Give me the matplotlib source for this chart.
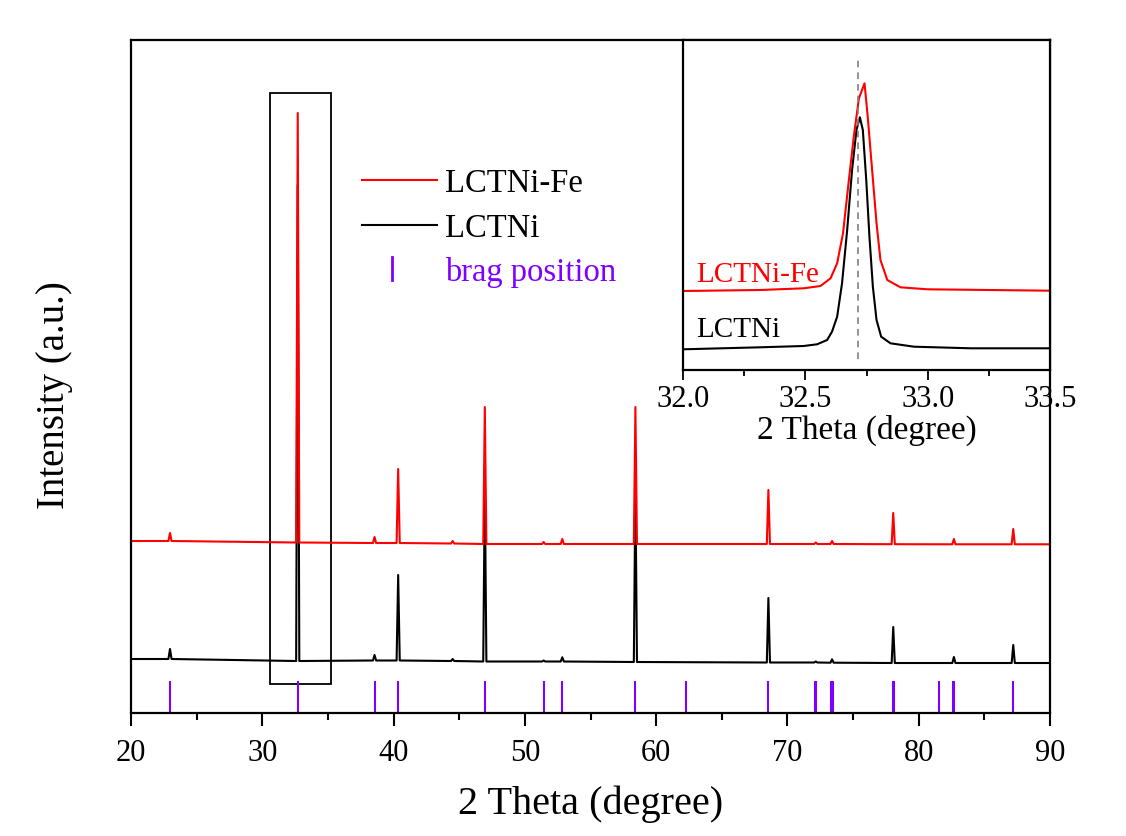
import matplotlib
matplotlib.use("Agg")
import matplotlib.pyplot as plt
from matplotlib.patches import Rectangle
from matplotlib.ticker import MultipleLocator, FormatStrFormatter

plt.rcParams['font.family'] = ['Liberation Serif', 'DejaVu Serif']

# ---- main pattern (2theta in degree, intensity in a.u.) ----
peak_pos = [22.97, 32.70, 38.55, 40.35, 44.5, 46.95, 51.43, 52.85, 58.42,
            68.55, 72.16, 73.40, 78.06, 82.68, 87.20]
lctni_top = [11, 475, 5, 85, 1, 175, -0.5, 2.7, 175, 62, -1.5, 0.7, 33, 3, 15]
lctni_bg = [1, -1, -0.5, -0.5, -1, -1.5, -1.5, -1.5, -2, -2.5, -2.5, -2.7, -3, -3, -3]
fe_top = [127, 547, 123, 191, 119, 253, 118, 121, 253, 170, 117.5, 119, 147, 121, 131]
fe_bg = [119, 117.5, 117, 117, 116.5, 116, 116, 116, 116, 116, 116, 116, 115.8, 115.7, 115.7]
lctni_ends = [1, -3]      # background at 20 and 90 degree
fe_ends = [119, 115.7]
half_width = 0.12

brag = [22.97, 32.70, 38.55, 40.35, 46.95, 51.43, 52.85, 58.42, 62.31, 68.55,
        72.12, 72.20, 73.33, 73.48, 78.02, 78.10, 81.54, 82.62, 82.72, 87.20]

# ---- inset: zoom of the (110) peak ----
in_x_lctni = [32.0, 32.316, 32.493, 32.548, 32.589, 32.609, 32.630, 32.650, 32.671,
              32.691, 32.709, 32.723, 32.735, 32.749, 32.762, 32.776, 32.791, 32.810,
              32.848, 32.944, 33.177, 33.5]
in_y_lctni = [20.7, 22.7, 24, 25.7, 30, 38.3, 53.3, 86.7, 140, 200, 240, 252.7, 240,
              190, 133.3, 83.3, 50, 33.3, 26.7, 23.3, 21.7, 21.7]
in_x_fe = [32.0, 32.316, 32.493, 32.562, 32.603, 32.630, 32.654, 32.678, 32.698, 32.719,
           32.742, 32.755, 32.773, 32.791, 32.807, 32.835, 32.889, 32.999, 33.5]
in_y_fe = [79, 80, 81.7, 84, 91.7, 106.7, 136.7, 190, 233.3, 271.7, 286.7, 253.3, 200,
           146.7, 110, 90, 82.7, 80.7, 79.3]
ref_peak = 32.717


def pattern(tops, bgs, ends):
    xs, ys = [20.0], [ends[0]]
    for p, t, b in zip(peak_pos, tops, bgs):
        xs += [p - half_width, p, p + half_width]
        ys += [b, t, b]
    xs.append(90.0)
    ys.append(ends[1])
    return xs, ys


fig = plt.figure(figsize=(11.26, 8.36), dpi=100)
ax = fig.add_axes([131 / 1126, 123 / 836, 919 / 1126, 673 / 836])

x1, y1 = pattern(lctni_top, lctni_bg, lctni_ends)
x2, y2 = pattern(fe_top, fe_bg, fe_ends)
ax.plot(x1, y1, color='black', lw=1.5)
ax.plot(x2, y2, color='red', lw=1.5)
ax.vlines(brag, -53, -21, color='#8000ff', lw=1.5)
ax.add_patch(Rectangle((30.6, -24), 4.6, 591, fill=False, ec='black', lw=1.3))

ax.set_xlim(20, 90)
ax.set_ylim(-53, 620)
ax.xaxis.set_major_locator(MultipleLocator(10))
ax.xaxis.set_minor_locator(MultipleLocator(5))
ax.tick_params(axis='x', which='major', direction='out', length=9, width=1.5,
               labelsize=22, pad=10)
ax.tick_params(axis='x', which='minor', direction='out', length=5, width=1.5)
ax.set_yticks([])
for s in ax.spines.values():
    s.set_linewidth(1.6)
ax.set_xlabel('2 Theta (degree)', fontsize=29, labelpad=12)
ax.set_ylabel('Intensity (a.u.)', fontsize=28)
ax.yaxis.set_label_coords(-0.063, 0.4725)

# legend drawn by hand
ax.plot([0.2514, 0.333], [0.792, 0.792], color='red', lw=1.5, transform=ax.transAxes)
ax.plot([0.2514, 0.333], [0.725, 0.725], color='black', lw=1.5, transform=ax.transAxes)
ax.plot([0.284, 0.284], [0.643, 0.678], color='#8000ff', lw=2, transform=ax.transAxes)
ax.text(0.3417, 0.792, 'LCTNi-Fe', fontsize=23.5, va='center_baseline',
        transform=ax.transAxes)
ax.text(0.3417, 0.725, 'LCTNi', fontsize=23.5, va='center_baseline',
        transform=ax.transAxes)
ax.text(0.3417, 0.660, 'brag position', fontsize=23.5, va='center_baseline',
        color='#8000ff', transform=ax.transAxes)

# inset
axin = fig.add_axes([683 / 1126, 466 / 836, 367 / 1126, 330 / 836])
axin.plot(in_x_lctni, in_y_lctni, color='black', lw=1.5)
axin.plot(in_x_fe, in_y_fe, color='red', lw=1.5)
axin.plot([ref_peak, ref_peak], [11, 311], color='#808080', lw=1.2, ls=(0, (4, 3)))
axin.text(32.053, 88, 'LCTNi-Fe', color='red', fontsize=21, va='baseline')
axin.text(32.053, 33, 'LCTNi', color='black', fontsize=21, va='baseline')
axin.set_xlim(32.0, 33.5)
axin.set_ylim(0, 330)
axin.xaxis.set_major_locator(MultipleLocator(0.5))
axin.xaxis.set_minor_locator(MultipleLocator(0.25))
axin.xaxis.set_major_formatter(FormatStrFormatter('%.1f'))
axin.tick_params(axis='x', which='major', direction='out', length=7, width=1.3,
                 labelsize=22, pad=4)
axin.tick_params(axis='x', which='minor', direction='out', length=4, width=1.3)
axin.set_yticks([])
for s in axin.spines.values():
    s.set_linewidth(1.6)
axin.set_xlabel('2 Theta (degree)', fontsize=24, labelpad=0)

fig.savefig('out.png', dpi=100)
